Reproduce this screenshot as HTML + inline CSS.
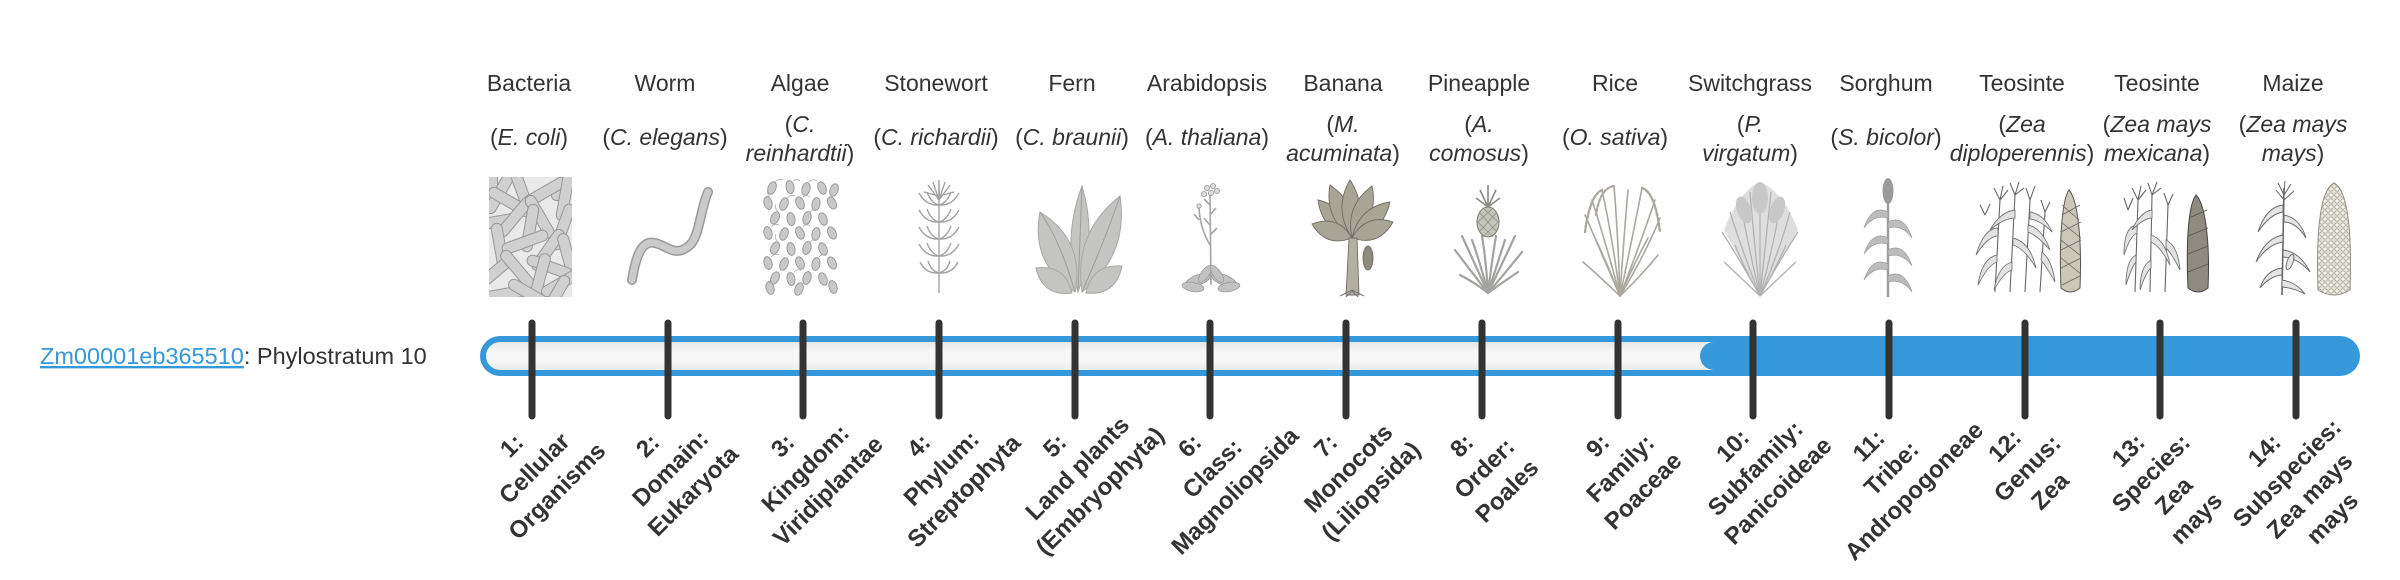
<!DOCTYPE html>
<html><head><meta charset="utf-8"><style>
html,body{margin:0;padding:0;background:#fff;width:2400px;height:580px;overflow:hidden}
svg{display:block}
</style></head><body>
<svg width="2400" height="580" viewBox="0 0 2400 580" xmlns="http://www.w3.org/2000/svg" font-family="'Liberation Sans', Arial, sans-serif">
<defs>
<linearGradient id="inner" x1="0" y1="0" x2="0" y2="1">
<stop offset="0" stop-color="#e6e6e6"/><stop offset="0.3" stop-color="#f6f6f6"/><stop offset="0.7" stop-color="#f6f6f6"/><stop offset="1" stop-color="#ebebeb"/>
</linearGradient>
<pattern id="kern" width="6" height="6" patternUnits="userSpaceOnUse"><rect width="6" height="6" fill="#e6e3da"/><circle cx="3" cy="3" r="2.2" fill="#f5f3ee" stroke="#a3a094" stroke-width="0.8"/></pattern>
<clipPath id="bclip"><rect x="489" y="177" width="83" height="120"/></clipPath>
</defs>

<!-- top common names -->
<g font-size="23" fill="#333" text-anchor="middle">
<text x="529" y="91">Bacteria</text>
<text x="665" y="91">Worm</text>
<text x="800" y="91">Algae</text>
<text x="936" y="91">Stonewort</text>
<text x="1072" y="91">Fern</text>
<text x="1207" y="91">Arabidopsis</text>
<text x="1343" y="91">Banana</text>
<text x="1479" y="91">Pineapple</text>
<text x="1615" y="91">Rice</text>
<text x="1750" y="91">Switchgrass</text>
<text x="1886" y="91">Sorghum</text>
<text x="2022" y="91">Teosinte</text>
<text x="2157" y="91">Teosinte</text>
<text x="2293" y="91">Maize</text>
</g>

<!-- species -->
<g font-size="23" fill="#333" text-anchor="middle">
<text x="529" y="145">(<tspan font-style="italic">E. coli</tspan>)</text>
<text x="665" y="145">(<tspan font-style="italic">C. elegans</tspan>)</text>
<text x="800" y="132">(<tspan font-style="italic">C.</tspan></text>
<text x="800" y="161" font-style="italic">reinhardtii<tspan font-style="normal">)</tspan></text>
<text x="936" y="145">(<tspan font-style="italic">C. richardii</tspan>)</text>
<text x="1072" y="145">(<tspan font-style="italic">C. braunii</tspan>)</text>
<text x="1207" y="145">(<tspan font-style="italic">A. thaliana</tspan>)</text>
<text x="1343" y="132">(<tspan font-style="italic">M.</tspan></text>
<text x="1343" y="161" font-style="italic">acuminata<tspan font-style="normal">)</tspan></text>
<text x="1479" y="132">(<tspan font-style="italic">A.</tspan></text>
<text x="1479" y="161" font-style="italic">comosus<tspan font-style="normal">)</tspan></text>
<text x="1615" y="145">(<tspan font-style="italic">O. sativa</tspan>)</text>
<text x="1750" y="132">(<tspan font-style="italic">P.</tspan></text>
<text x="1750" y="161" font-style="italic">virgatum<tspan font-style="normal">)</tspan></text>
<text x="1886" y="145">(<tspan font-style="italic">S. bicolor</tspan>)</text>
<text x="2022" y="132">(<tspan font-style="italic">Zea</tspan></text>
<text x="2022" y="161" font-style="italic">diploperennis<tspan font-style="normal">)</tspan></text>
<text x="2157" y="132">(<tspan font-style="italic">Zea mays</tspan></text>
<text x="2157" y="161" font-style="italic">mexicana<tspan font-style="normal">)</tspan></text>
<text x="2293" y="132">(<tspan font-style="italic">Zea mays</tspan></text>
<text x="2293" y="161" font-style="italic">mays<tspan font-style="normal">)</tspan></text>
</g>

<!-- Bacteria image -->
<g clip-path="url(#bclip)">
<rect x="489" y="177" width="83" height="120" fill="#e9e9e9"/>
<g fill="#d0d0d0" stroke="#979797" stroke-width="1">
<rect x="-5.5" y="-24" width="11" height="48" rx="5.5" transform="translate(492,182) rotate(0)"/>
<rect x="-5.5" y="-24" width="11" height="48" rx="5.5" transform="translate(570,182) rotate(45)"/>
<rect x="-5.5" y="-24" width="11" height="48" rx="5.5" transform="translate(500,192) rotate(30)"/>
<rect x="-5.5" y="-24" width="11" height="48" rx="5.5" transform="translate(520,186) rotate(-20)"/>
<rect x="-5.5" y="-24" width="11" height="48" rx="5.5" transform="translate(545,192) rotate(60)"/>
<rect x="-5.5" y="-24" width="11" height="48" rx="5.5" transform="translate(565,197) rotate(10)"/>
<rect x="-5.5" y="-24" width="11" height="48" rx="5.5" transform="translate(510,202) rotate(-60)"/>
<rect x="-5.5" y="-24" width="11" height="48" rx="5.5" transform="translate(495,222) rotate(80)"/>
<rect x="-5.5" y="-24" width="11" height="48" rx="5.5" transform="translate(515,217) rotate(40)"/>
<rect x="-5.5" y="-24" width="11" height="48" rx="5.5" transform="translate(540,217) rotate(-30)"/>
<rect x="-5.5" y="-24" width="11" height="48" rx="5.5" transform="translate(530,228) rotate(10)"/>
<rect x="-5.5" y="-24" width="11" height="48" rx="5.5" transform="translate(563,227) rotate(20)"/>
<rect x="-5.5" y="-24" width="11" height="48" rx="5.5" transform="translate(500,247) rotate(-10)"/>
<rect x="-5.5" y="-24" width="11" height="48" rx="5.5" transform="translate(525,242) rotate(70)"/>
<rect x="-5.5" y="-24" width="11" height="48" rx="5.5" transform="translate(548,250) rotate(35)"/>
<rect x="-5.5" y="-24" width="11" height="48" rx="5.5" transform="translate(568,257) rotate(-15)"/>
<rect x="-5.5" y="-24" width="11" height="48" rx="5.5" transform="translate(550,267) rotate(-70)"/>
<rect x="-5.5" y="-24" width="11" height="48" rx="5.5" transform="translate(495,272) rotate(50)"/>
<rect x="-5.5" y="-24" width="11" height="48" rx="5.5" transform="translate(518,270) rotate(-40)"/>
<rect x="-5.5" y="-24" width="11" height="48" rx="5.5" transform="translate(540,277) rotate(15)"/>
<rect x="-5.5" y="-24" width="11" height="48" rx="5.5" transform="translate(563,282) rotate(60)"/>
<rect x="-5.5" y="-24" width="11" height="48" rx="5.5" transform="translate(505,294) rotate(80)"/>
<rect x="-5.5" y="-24" width="11" height="48" rx="5.5" transform="translate(530,294) rotate(-60)"/>
<rect x="-5.5" y="-24" width="11" height="48" rx="5.5" transform="translate(555,297) rotate(30)"/>
</g>
</g>

<!-- Worm -->
<path d="M632,280 C636,255 642,240 655,243 C668,246 675,258 690,245 C700,235 700,210 708,192" fill="none" stroke="#9a9a9a" stroke-width="10" stroke-linecap="round"/>
<path d="M632,280 C636,255 642,240 655,243 C668,246 675,258 690,245 C700,235 700,210 708,192" fill="none" stroke="#cacaca" stroke-width="7" stroke-linecap="round"/>

<!-- Algae -->
<g fill="#c9c9c9" stroke="#959595" stroke-width="0.9">
<ellipse cx="772" cy="188" rx="4" ry="6.5" transform="rotate(20 772 188)"/>
<ellipse cx="790" cy="187" rx="4" ry="6.5" transform="rotate(-10 790 187)"/>
<ellipse cx="806" cy="189" rx="4" ry="6.5" transform="rotate(15 806 189)"/>
<ellipse cx="822" cy="188" rx="4" ry="6.5" transform="rotate(-20 822 188)"/>
<ellipse cx="834" cy="190" rx="4" ry="6.5" transform="rotate(20 834 190)"/>
<ellipse cx="768" cy="203" rx="4" ry="6.5" transform="rotate(-15 768 203)"/>
<ellipse cx="784" cy="204" rx="4" ry="6.5" transform="rotate(20 784 204)"/>
<ellipse cx="800" cy="203" rx="4" ry="6.5" transform="rotate(-20 800 203)"/>
<ellipse cx="816" cy="204" rx="4" ry="6.5" transform="rotate(10 816 204)"/>
<ellipse cx="832" cy="203" rx="4" ry="6.5" transform="rotate(-25 832 203)"/>
<ellipse cx="775" cy="218" rx="4" ry="6.5" transform="rotate(25 775 218)"/>
<ellipse cx="791" cy="219" rx="4" ry="6.5" transform="rotate(-10 791 219)"/>
<ellipse cx="807" cy="218" rx="4" ry="6.5" transform="rotate(15 807 218)"/>
<ellipse cx="823" cy="219" rx="4" ry="6.5" transform="rotate(-20 823 219)"/>
<ellipse cx="768" cy="233" rx="4" ry="6.5" transform="rotate(-15 768 233)"/>
<ellipse cx="784" cy="234" rx="4" ry="6.5" transform="rotate(20 784 234)"/>
<ellipse cx="800" cy="233" rx="4" ry="6.5" transform="rotate(-20 800 233)"/>
<ellipse cx="816" cy="234" rx="4" ry="6.5" transform="rotate(10 816 234)"/>
<ellipse cx="832" cy="233" rx="4" ry="6.5" transform="rotate(-25 832 233)"/>
<ellipse cx="775" cy="248" rx="4" ry="6.5" transform="rotate(25 775 248)"/>
<ellipse cx="791" cy="249" rx="4" ry="6.5" transform="rotate(-10 791 249)"/>
<ellipse cx="807" cy="248" rx="4" ry="6.5" transform="rotate(15 807 248)"/>
<ellipse cx="823" cy="249" rx="4" ry="6.5" transform="rotate(-20 823 249)"/>
<ellipse cx="768" cy="263" rx="4" ry="6.5" transform="rotate(-15 768 263)"/>
<ellipse cx="784" cy="264" rx="4" ry="6.5" transform="rotate(20 784 264)"/>
<ellipse cx="800" cy="263" rx="4" ry="6.5" transform="rotate(-20 800 263)"/>
<ellipse cx="816" cy="264" rx="4" ry="6.5" transform="rotate(10 816 264)"/>
<ellipse cx="832" cy="263" rx="4" ry="6.5" transform="rotate(-25 832 263)"/>
<ellipse cx="775" cy="278" rx="4" ry="6.5" transform="rotate(25 775 278)"/>
<ellipse cx="791" cy="279" rx="4" ry="6.5" transform="rotate(-10 791 279)"/>
<ellipse cx="807" cy="278" rx="4" ry="6.5" transform="rotate(15 807 278)"/>
<ellipse cx="823" cy="279" rx="4" ry="6.5" transform="rotate(-20 823 279)"/>
<ellipse cx="770" cy="288" rx="4" ry="6.5" transform="rotate(-15 770 288)"/>
<ellipse cx="799" cy="289" rx="4" ry="6.5" transform="rotate(20 799 289)"/>
<ellipse cx="833" cy="287" rx="4" ry="6.5" transform="rotate(-15 833 287)"/>
</g>
<g fill="none" stroke="#b0b0b0" stroke-width="0.8">
<path d="M775,182 q4,-4 8,-2"/><path d="M793,181 q4,-3 7,0"/><path d="M809,182 q4,-4 8,-1"/>
<path d="M770,197 q-4,-4 -2,-8"/><path d="M787,198 q4,-4 8,-2"/><path d="M803,197 q4,-3 7,0"/>
<path d="M778,212 q-4,-4 -2,-8"/><path d="M810,212 q4,-4 8,-2"/><path d="M771,227 q4,-4 8,-2"/>
<path d="M803,227 q4,-4 7,-1"/><path d="M778,242 q-4,-4 -2,-8"/><path d="M810,242 q4,-4 8,-2"/>
<path d="M771,257 q4,-4 8,-2"/><path d="M819,257 q4,-4 8,-2"/><path d="M794,272 q4,-4 7,-1"/>
</g>

<!-- Stonewort -->
<g fill="none" stroke="#a3a3a3" stroke-width="1.4">
<path d="M939,293 L939,184"/>
<path d="M939,205 Q926,206 919,193 M939,205 Q952,206 959,193 M939,205 Q931,203 927,192 M939,205 Q947,203 951,192"/>
<path d="M939,222 Q926,223 919,210 M939,222 Q952,223 959,210 M939,222 Q931,220 927,209 M939,222 Q947,220 951,209"/>
<path d="M939,239 Q926,240 919,227 M939,239 Q952,240 959,227 M939,239 Q931,237 927,226 M939,239 Q947,237 951,226"/>
<path d="M939,256 Q926,257 919,244 M939,256 Q952,257 959,244 M939,256 Q931,254 927,243 M939,256 Q947,254 951,243"/>
<path d="M939,273 Q926,274 920,262 M939,273 Q952,274 958,262 M939,273 Q931,271 928,261 M939,273 Q947,271 950,261"/>
<path d="M939,200 L928,185 M939,200 L933,182 M939,200 L939,180 M939,200 L945,182 M939,200 L950,185 M939,196 L924,192 M939,196 L954,192"/>
</g>

<!-- Fern -->
<g fill="#c4c4c2" stroke="#a8a8a6" stroke-width="1">
<path d="M1078,292 Q1098,239 1082,186 Q1062,239 1078,292Z"/>
<path d="M1075,292 Q1085,240 1040,212 Q1030,264 1075,292Z"/>
<path d="M1082,292 Q1129,255 1120,196 Q1073,233 1082,292Z"/>
<path d="M1072,293 Q1065,264 1036,268 Q1043,297 1072,293Z"/>
<path d="M1086,293 Q1092,264 1122,266 Q1116,296 1086,293Z"/>
</g>
<g fill="none" stroke="#9c9c9a" stroke-width="1">
<path d="M1078,292 L1082,186 M1075,292 Q1060,240 1040,212 M1082,292 Q1105,240 1120,196"/>
</g>

<!-- Arabidopsis -->
<g fill="none" stroke="#a5a5a5" stroke-width="1.6">
<path d="M1211,285 L1210,192"/>
<path d="M1210,245 Q1200,228 1199,208"/>
<path d="M1210,225 L1204,218 M1210,215 L1216,208 M1210,235 L1217,228 M1199,220 L1194,214 M1210,205 L1204,199"/>
</g>
<g fill="#dcdcdc" stroke="#9a9a9a" stroke-width="0.8">
<circle cx="1207" cy="188" r="2.6"/><circle cx="1213" cy="186" r="2.6"/><circle cx="1217" cy="191" r="2.6"/><circle cx="1204" cy="194" r="2.6"/><circle cx="1211" cy="193" r="2.6"/><circle cx="1199" cy="206" r="2.2"/>
</g>
<g fill="#c2c2c2" stroke="#999" stroke-width="0.8">
<ellipse cx="1198" cy="280" rx="13" ry="5" transform="rotate(-20 1198 280)"/>
<ellipse cx="1224" cy="280" rx="13" ry="5" transform="rotate(20 1224 280)"/>
<ellipse cx="1193" cy="287" rx="11" ry="4.5" transform="rotate(10 1193 287)"/>
<ellipse cx="1229" cy="287" rx="11" ry="4.5" transform="rotate(-10 1229 287)"/>
<ellipse cx="1205" cy="274" rx="10" ry="4" transform="rotate(-55 1205 274)"/>
<ellipse cx="1217" cy="274" rx="10" ry="4" transform="rotate(55 1217 274)"/>
</g>

<!-- Banana -->
<g fill="#a8a597" stroke="#6f6d63" stroke-width="0.9">
<path d="M1352,238 Q1348,207 1318,200 Q1322,231 1352,238Z"/>
<path d="M1352,238 Q1358,204 1330,185 Q1324,218 1352,238Z"/>
<path d="M1352,238 Q1369,209 1350,180 Q1333,209 1352,238Z"/>
<path d="M1352,238 Q1379,218 1372,186 Q1345,206 1352,238Z"/>
<path d="M1352,238 Q1383,233 1390,202 Q1359,207 1352,238Z"/>
<path d="M1352,238 Q1338,214 1312,224 Q1326,248 1352,238Z"/>
<path d="M1352,238 Q1379,247 1393,222 Q1366,213 1352,238Z"/>
<path d="M1346,295 L1349,238 L1357,238 L1359,295Z" fill="#b3b0a3"/>
<ellipse cx="1368" cy="258" rx="5" ry="12" fill="#8f8c7f"/>
</g>
<path d="M1340,296 L1352,290 L1364,296 M1346,297 L1352,291 L1358,297" fill="none" stroke="#777" stroke-width="1"/>

<!-- Pineapple -->
<g fill="none" stroke="#a2a2a0" stroke-width="2.2" stroke-linecap="round">
<path d="M1488,293 Q1470,270 1455,250"/><path d="M1488,293 Q1474,262 1462,236"/><path d="M1488,293 Q1480,262 1472,240"/>
<path d="M1488,293 Q1486,260 1482,236"/><path d="M1488,293 Q1492,260 1496,236"/><path d="M1488,293 Q1498,262 1505,240"/>
<path d="M1488,293 Q1503,262 1515,236"/><path d="M1488,293 Q1506,272 1522,252"/><path d="M1488,293 Q1474,282 1460,275"/>
<path d="M1488,293 Q1503,282 1518,272"/>
</g>
<ellipse cx="1488" cy="222" rx="11" ry="15" fill="#c6c5bc" stroke="#7a7a72" stroke-width="1"/>
<path d="M1479,212 L1497,232 M1478,222 L1493,237 M1483,208 L1498,222 M1497,212 L1479,232 M1498,222 L1483,237 M1493,208 L1478,222" stroke="#8a8a82" stroke-width="0.7" fill="none"/>
<path d="M1488,207 L1480,190 M1488,207 L1488,185 M1488,207 L1496,190 M1488,207 L1476,198 M1488,207 L1500,198" stroke="#8a8a82" stroke-width="1.6" fill="none"/>

<!-- Rice -->
<g fill="none" stroke="#aaa89e" stroke-width="1.6" stroke-linecap="round">
<path d="M1620,296 Q1600,250 1585,215"/><path d="M1620,296 Q1605,240 1592,200"/><path d="M1620,296 Q1612,235 1602,190"/>
<path d="M1620,296 Q1618,235 1614,186"/><path d="M1620,296 Q1624,235 1628,190"/><path d="M1620,296 Q1632,240 1642,188"/>
<path d="M1620,296 Q1640,245 1655,200"/><path d="M1620,296 Q1645,255 1660,218"/><path d="M1620,296 Q1598,275 1583,262"/>
<path d="M1620,296 Q1642,275 1658,255"/><path d="M1620,296 Q1610,270 1596,240"/><path d="M1620,296 Q1632,268 1648,238"/>
<path d="M1602,190 Q1590,195 1585,232" stroke-dasharray="3 2" stroke-width="2.4"/>
<path d="M1642,188 Q1655,192 1660,232" stroke-dasharray="3 2" stroke-width="2.4"/>
<path d="M1614,186 Q1600,188 1596,215" stroke-dasharray="3 2" stroke-width="2.2"/>
</g>

<!-- Switchgrass -->
<path d="M1760,296 L1724,230 Q1740,190 1760,182 Q1782,190 1798,230Z" fill="#dedede"/>
<g fill="none" stroke="#b2b2b2" stroke-width="1.3">
<path d="M1760,296 Q1740,260 1722,232"/><path d="M1760,296 Q1742,250 1730,212"/><path d="M1760,296 Q1748,245 1740,200"/>
<path d="M1760,296 Q1754,240 1750,192"/><path d="M1760,296 Q1760,240 1760,182"/><path d="M1760,296 Q1766,240 1771,192"/>
<path d="M1760,296 Q1774,245 1781,200"/><path d="M1760,296 Q1780,250 1790,212"/><path d="M1760,296 Q1780,260 1798,232"/>
<path d="M1760,296 Q1738,275 1724,262"/><path d="M1760,296 Q1782,275 1796,262"/><path d="M1760,296 Q1745,270 1735,245"/>
<path d="M1760,296 Q1775,270 1786,245"/>
</g>
<g fill="#c8c8c8">
<ellipse cx="1760" cy="198" rx="8" ry="16"/><ellipse cx="1744" cy="210" rx="7" ry="14" transform="rotate(-20 1744 210)"/><ellipse cx="1777" cy="210" rx="7" ry="14" transform="rotate(20 1777 210)"/>
</g>

<!-- Sorghum -->
<path d="M1888,297 L1888,200" stroke="#9c9c9c" stroke-width="2.5"/>
<ellipse cx="1888" cy="191" rx="5.5" ry="13" fill="#9b9b9b"/>
<g fill="#bcbcbc" stroke="#9c9c9c" stroke-width="0.7">
<path d="M1888,212 Q1872,204 1864,228 Q1874,214 1888,218Z"/>
<path d="M1888,222 Q1904,214 1912,238 Q1902,224 1888,228Z"/>
<path d="M1888,238 Q1872,230 1864,254 Q1874,240 1888,244Z"/>
<path d="M1888,250 Q1904,242 1912,266 Q1902,252 1888,256Z"/>
<path d="M1888,264 Q1872,256 1864,280 Q1874,266 1888,270Z"/>
<path d="M1888,276 Q1904,268 1912,292 Q1902,278 1888,282Z"/>
</g>

<!-- Teosinte 1 -->
<g fill="none" stroke="#666" stroke-width="1.1">
<path d="M1995,292 L2000,200 M2010,292 L2015,195 M2025,292 L2030,200 M2040,292 L2045,212"/>
<path d="M2000,200 L1994,188 M2000,200 L2003,186 M2000,200 L2008,190 M2015,195 L2010,183 M2015,195 L2019,182 M2015,195 L2024,188 M2030,200 L2026,188 M2030,200 L2035,186 M2045,212 L2041,200 M2045,212 L2050,202 M1985,215 L1980,205 M1985,215 L1990,204"/>
</g>
<g fill="#e2e2e2" stroke="#777" stroke-width="0.9">
<path d="M1998,228 Q1984,228 1976,255 Q1988,236 1998,236Z"/>
<path d="M2013,238 Q2030,242 2036,268 Q2024,248 2013,245Z"/>
<path d="M2028,225 Q2042,228 2050,250 Q2038,236 2028,232Z"/>
<path d="M1997,255 Q1982,258 1978,285 Q1988,265 1997,262Z"/>
<path d="M2012,262 Q1998,266 1994,290 Q2004,272 2012,270Z"/>
<path d="M2042,252 Q2052,260 2055,282 Q2046,266 2041,260Z"/>
<path d="M2015,210 Q2000,212 1990,230 Q2004,218 2015,218Z"/>
<path d="M2030,212 Q2044,214 2052,232 Q2040,220 2030,219Z"/>
</g>
<path d="M2069,190 C2078,200 2082,240 2080,288 Q2070,296 2061,288 C2059,240 2062,200 2069,190Z" fill="#cdc7ba" stroke="#555" stroke-width="1"/>
<path d="M2062,215 L2080,205 M2061,232 L2081,222 M2061,250 L2081,240 M2061,268 L2081,258 M2062,285 L2080,276 M2062,205 L2079,220 M2061,222 L2081,238 M2061,240 L2081,256 M2061,258 L2081,274" stroke="#6a665e" stroke-width="0.8" fill="none"/>

<!-- Teosinte 2 -->
<g fill="none" stroke="#666" stroke-width="1.1">
<path d="M2135,292 L2138,200 M2150,292 L2152,195 M2165,292 L2168,205"/>
<path d="M2138,200 L2132,188 M2138,200 L2141,186 M2138,200 L2146,190 M2152,195 L2148,183 M2152,195 L2157,182 M2152,195 L2161,188 M2168,205 L2164,193 M2168,205 L2173,194 M2128,210 L2124,198 M2128,210 L2133,198"/>
</g>
<g fill="#e2e2e2" stroke="#777" stroke-width="0.9">
<path d="M2137,225 Q2124,226 2124,255 Q2130,236 2137,233Z"/>
<path d="M2151,235 Q2166,240 2170,265 Q2160,246 2151,242Z"/>
<path d="M2136,255 Q2126,260 2126,285 Q2132,266 2136,262Z"/>
<path d="M2166,240 Q2178,246 2180,270 Q2172,254 2166,248Z"/>
<path d="M2151,260 Q2140,266 2140,290 Q2146,272 2151,268Z"/>
<path d="M2152,210 Q2140,212 2132,230 Q2144,218 2152,218Z"/>
</g>
<path d="M2196,195 C2206,205 2210,245 2208,288 Q2198,296 2188,288 C2186,245 2188,205 2196,195Z" fill="#8f8a7f" stroke="#444" stroke-width="1"/>
<path d="M2189,218 L2207,210 M2188,236 L2208,228 M2188,254 L2208,246 M2188,272 L2208,264" stroke="#5a564e" stroke-width="0.9" fill="none"/>

<!-- Maize -->
<path d="M2282,295 L2284,188" stroke="#666" stroke-width="1.6" fill="none"/>
<path d="M2284,195 L2278,183 M2284,195 L2285,181 M2284,195 L2291,184 M2284,200 L2276,190 M2284,200 L2294,191" stroke="#666" stroke-width="1" fill="none"/>
<g fill="#e4e4e4" stroke="#666" stroke-width="0.9">
<path d="M2283,205 Q2266,207 2258,232 Q2270,214 2283,212Z"/>
<path d="M2284,215 Q2300,218 2306,238 Q2296,222 2284,222Z"/>
<path d="M2283,235 Q2265,238 2256,262 Q2268,244 2283,242Z"/>
<path d="M2283,250 Q2300,252 2310,272 Q2298,258 2283,257Z"/>
<path d="M2282,268 Q2266,270 2260,288 Q2270,276 2282,275Z"/>
<path d="M2282,280 Q2296,282 2305,294 Q2294,288 2282,287Z"/>
<ellipse cx="2290" cy="262" rx="3" ry="8" transform="rotate(20 2290 262)"/>
</g>
<path d="M2334,183 C2348,190 2352,230 2350,290 Q2334,300 2318,290 C2316,230 2320,190 2334,183Z" fill="url(#kern)" stroke="#8f8c82" stroke-width="1"/>

<!-- Link text -->
<text x="40" y="364" font-size="23.5"><tspan fill="#3498db" text-decoration="underline">Zm00001eb365510</tspan><tspan fill="#333">: Phylostratum 10</tspan></text>

<!-- Bar -->
<rect x="480" y="336" width="1880" height="40" rx="20" fill="#3498db"/>
<rect x="486" y="342" width="1868" height="28" rx="14" fill="url(#inner)"/>
<rect x="1700" y="342" width="654" height="28" rx="14" fill="#3498db"/>
<rect x="1760" y="342" width="594" height="28" fill="#3498db"/>

<!-- Ticks -->
<g stroke="#333" stroke-width="7" stroke-linecap="round">
<line x1="532" y1="323" x2="532" y2="416"/>
<line x1="668" y1="323" x2="668" y2="416"/>
<line x1="803" y1="323" x2="803" y2="416"/>
<line x1="939" y1="323" x2="939" y2="416"/>
<line x1="1075" y1="323" x2="1075" y2="416"/>
<line x1="1210" y1="323" x2="1210" y2="416"/>
<line x1="1346" y1="323" x2="1346" y2="416"/>
<line x1="1482" y1="323" x2="1482" y2="416"/>
<line x1="1618" y1="323" x2="1618" y2="416"/>
<line x1="1753" y1="323" x2="1753" y2="416"/>
<line x1="1889" y1="323" x2="1889" y2="416"/>
<line x1="2025" y1="323" x2="2025" y2="416"/>
<line x1="2160" y1="323" x2="2160" y2="416"/>
<line x1="2296" y1="323" x2="2296" y2="416"/>
</g>

<!-- Rotated labels -->
<g font-size="24" font-weight="bold" fill="#333" text-anchor="middle">
<text transform="translate(534,468) rotate(-45)"><tspan x="0" y="-23.5">1:</tspan><tspan x="0" y="8.5">Cellular</tspan><tspan x="0" y="40.5">Organisms</tspan></text>
<text transform="translate(670,468) rotate(-45)"><tspan x="0" y="-23.5">2:</tspan><tspan x="0" y="8.5">Domain:</tspan><tspan x="0" y="40.5">Eukaryota</tspan></text>
<text transform="translate(805,468) rotate(-45)"><tspan x="0" y="-23.5">3:</tspan><tspan x="0" y="8.5">Kingdom:</tspan><tspan x="0" y="40.5">Viridiplantae</tspan></text>
<text transform="translate(941,468) rotate(-45)"><tspan x="0" y="-23.5">4:</tspan><tspan x="0" y="8.5">Phylum:</tspan><tspan x="0" y="40.5">Streptophyta</tspan></text>
<text transform="translate(1077,468) rotate(-45)"><tspan x="0" y="-23.5">5:</tspan><tspan x="0" y="8.5">Land plants</tspan><tspan x="0" y="40.5">(Embryophyta)</tspan></text>
<text transform="translate(1212,468) rotate(-45)"><tspan x="0" y="-23.5">6:</tspan><tspan x="0" y="8.5">Class:</tspan><tspan x="0" y="40.5">Magnoliopsida</tspan></text>
<text transform="translate(1348,468) rotate(-45)"><tspan x="0" y="-23.5">7:</tspan><tspan x="0" y="8.5">Monocots</tspan><tspan x="0" y="40.5">(Liliopsida)</tspan></text>
<text transform="translate(1484,468) rotate(-45)"><tspan x="0" y="-23.5">8:</tspan><tspan x="0" y="8.5">Order:</tspan><tspan x="0" y="40.5">Poales</tspan></text>
<text transform="translate(1620,468) rotate(-45)"><tspan x="0" y="-23.5">9:</tspan><tspan x="0" y="8.5">Family:</tspan><tspan x="0" y="40.5">Poaceae</tspan></text>
<text transform="translate(1755,468) rotate(-45)"><tspan x="0" y="-23.5">10:</tspan><tspan x="0" y="8.5">Subfamily:</tspan><tspan x="0" y="40.5">Panicoideae</tspan></text>
<text transform="translate(1891,468) rotate(-45)"><tspan x="0" y="-23.5">11:</tspan><tspan x="0" y="8.5">Tribe:</tspan><tspan x="0" y="40.5">Andropogoneae</tspan></text>
<text transform="translate(2027,468) rotate(-45)"><tspan x="0" y="-23.5">12:</tspan><tspan x="0" y="8.5">Genus:</tspan><tspan x="0" y="40.5">Zea</tspan></text>
<text transform="translate(2162,484) rotate(-45)"><tspan x="0" y="-39.5">13:</tspan><tspan x="0" y="-7.5">Species:</tspan><tspan x="0" y="24.5">Zea</tspan><tspan x="0" y="56.5">mays</tspan></text>
<text transform="translate(2298,484) rotate(-45)"><tspan x="0" y="-39.5">14:</tspan><tspan x="0" y="-7.5">Subspecies:</tspan><tspan x="0" y="24.5">Zea mays</tspan><tspan x="0" y="56.5">mays</tspan></text>
</g>
</svg>
</body></html>
